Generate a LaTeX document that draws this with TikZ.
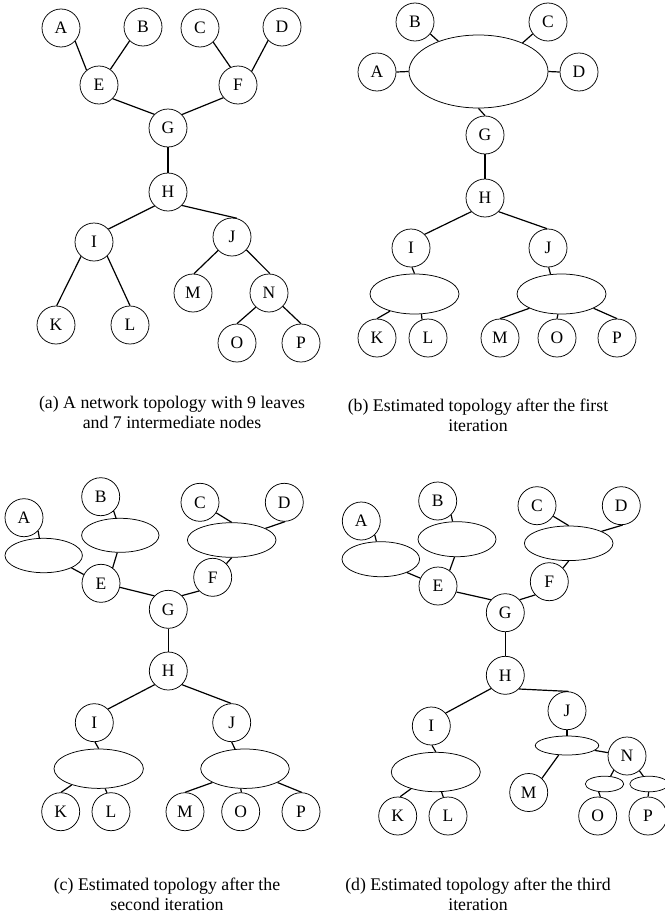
\documentclass[tikz,border=0pt]{standalone}
\usepackage{fontspec}
\setmainfont{Liberation Serif}
\usetikzlibrary{shapes.geometric}
\tikzset{
  vert/.style={circle, draw, line width=0.75pt, minimum size=38pt, inner sep=0pt, font=\fontsize{17.5}{18}\selectfont},
  blob/.style={ellipse, draw, line width=0.75pt, inner sep=0pt},
  link/.style={line width=1.2pt},
  captext/.style={anchor=base, inner sep=0pt, font=\fontsize{17.8}{20}\selectfont}
}
\begin{document}
\begin{tikzpicture}[x=1pt, y=-1pt]
\path[fill=white, use as bounding box] (0,0) rectangle (664,918);
% ---------- (a) ----------
\node[vert] (aA) at (61,28) {A};
\node[vert] (aB) at (143,27) {B};
\node[vert] (aC) at (200,28) {C};
\node[vert] (aD) at (282,27) {D};
\node[vert] (aE) at (99,85) {E};
\node[vert] (aF) at (238,85) {F};
\node[vert] (aG) at (168,128) {G};
\node[vert] (aH) at (168,192) {H};
\node[vert] (aI) at (94,242) {I};
\node[vert] (aJ) at (232,237) {J};
\node[vert] (aM) at (193,293) {M};
\node[vert] (aN) at (269,293) {N};
\node[vert] (aK) at (56,325) {K};
\node[vert] (aL) at (130,325) {L};
\node[vert] (aO) at (237,343) {O};
\node[vert] (aP) at (301,343) {P};
\draw[link] (aA.-43) -- (aE.130);
\draw[link] (aB.-134) -- (aE.54);
\draw[link] (aC.-47) -- (aF.113);
\draw[link] (aD.-136) -- (aF.45);
\draw[link] (aE.-45) -- (aG.135);
\draw[link] (aF.-139) -- (aG.44);
\draw[link] (aG) -- (aH);
\draw[link] (aH.-134) -- (aI.42);
\draw[link] (aH.-44) -- (aJ.76);
\draw[link] (aI.-132) -- (aK.88);
\draw[link] (aI.-47) -- (aL.90);
\draw[link] (aJ.-136) -- (aM.87);
\draw[link] (aJ.-42) -- (aN.87);
\draw[link] (aN.-133) -- (aO.90);
\draw[link] (aN.-44) -- (aP.90);
% ---------- (b) ----------
\node[vert] (bB) at (415,22) {B};
\node[vert] (bC) at (548,22) {C};
\node[vert] (bA) at (377,72) {A};
\node[vert] (bD) at (579,72) {D};
\node[blob, minimum width=139pt, minimum height=73pt] (bX) at (478.5,71.5) {};
\node[vert] (bG) at (485,135) {G};
\node[vert] (bH) at (485,198) {H};
\node[vert] (bI) at (411,248) {I};
\node[vert] (bJ) at (548,248) {J};
\node[blob, minimum width=89pt, minimum height=40pt] (bY) at (414.5,294) {};
\node[blob, minimum width=89pt, minimum height=40pt] (bZ) at (561.5,294) {};
\node[vert] (bK) at (377,338) {K};
\node[vert] (bL) at (428,338) {L};
\node[vert] (bM) at (500,338) {M};
\node[vert] (bO) at (557,338) {O};
\node[vert] (bP) at (617,338) {P};
\draw[link] (bA.east) -- (bX.west);
\draw[link] (bD.west) -- (bX.east);
\draw[link] (bB.-38) -- (bX.143);
\draw[link] (bC.218) -- (bX.33);
\draw[link] (bX.south) -- (bG.north);
\draw[link] (bG) -- (bH);
\draw[link] (bH.-135) -- (bI.45);
\draw[link] (bH.-45) -- (bJ.93);
\draw[link] (bI.-87) -- (bY.90);
\draw[link] (bJ.-88) -- (bZ.119);
\draw[link] (bY.215) -- (bK.90);
\draw[link] (bY.289) -- (bL.108);
\draw[link] (bZ.204) -- (bM.90);
\draw[link] (bZ.260) -- (bO.90);
\draw[link] (bZ.336) -- (bP.90);
% ---------- (c) ----------
\node[vert] (cA) at (24,517.7) {A};
\node[vert] (cB) at (100.7,496.7) {B};
\node[vert] (cC) at (200,502.3) {C};
\node[vert] (cD) at (284.3,502.3) {D};
\node[blob, minimum width=77.4pt, minimum height=34.4pt] (cEA) at (43.7,555.5) {};
\node[blob, minimum width=77.4pt, minimum height=34pt] (cEB) at (120.3,535.3) {};
\node[blob, minimum width=88.6pt, minimum height=34.6pt] (cECD) at (231.7,540) {};
\node[vert] (cE) at (101,583.3) {E};
\node[vert] (cF) at (212.7,577.3) {F};
\node[vert] (cG) at (168.3,609.3) {G};
\node[vert] (cH) at (168.3,671) {H};
\node[vert] (cI) at (94.3,722.7) {I};
\node[vert] (cJ) at (231.7,722.7) {J};
\node[blob, minimum width=89.4pt, minimum height=39.4pt] (cEKL) at (98.7,768.7) {};
\node[blob, minimum width=88.6pt, minimum height=39.4pt] (cEMOP) at (245,768.7) {};
\node[vert] (cK) at (60.7,811.7) {K};
\node[vert] (cL) at (111,811.7) {L};
\node[vert] (cM) at (185,811.7) {M};
\node[vert] (cO) at (240.7,811.7) {O};
\node[vert] (cP) at (301,811.7) {P};
\draw[link] (cA.-43) -- (cEA.104);
\draw[link] (cB.-48) -- (cEB.104);
\draw[link] (cEA.336) -- (cE.153);
\draw[link] (cEB.260) -- (cE.53);
\draw[link] (cC.-33) -- (cECD.90);
\draw[link] (cD.-88) -- (cECD.19);
\draw[link] (cECD.270) -- (cF.45);
\draw[link] (cE.-12) -- (cG.136);
\draw[link] (cF.-135) -- (cG.45);
\draw[link] (cG) -- (cH);
\draw[link] (cH.-135) -- (cI.45);
\draw[link] (cH.-45) -- (cJ.92);
\draw[link] (cI.-88) -- (cEKL.90);
\draw[link] (cJ.-90) -- (cEMOP.117);
\draw[link] (cEKL.211) -- (cK.89);
\draw[link] (cEKL.288) -- (cL.102);
\draw[link] (cEMOP.203) -- (cM.90);
\draw[link] (cEMOP.258) -- (cO.88);
\draw[link] (cEMOP.337) -- (cP.88);
% ---------- (d) ----------
\node[vert] (dA) at (361.3,521) {A};
\node[vert] (dB) at (437.7,501) {B};
\node[vert] (dC) at (537,505.7) {C};
\node[vert] (dD) at (621.3,505.7) {D};
\node[blob, minimum width=77.6pt, minimum height=35pt] (dEA) at (380.8,559.2) {};
\node[blob, minimum width=78pt, minimum height=35pt] (dEB) at (457,539.2) {};
\node[blob, minimum width=88.6pt, minimum height=34.6pt] (dECD) at (568.7,543.3) {};
\node[vert] (dE) at (438,586) {E};
\node[vert] (dF) at (549.3,581.7) {F};
\node[vert] (dG) at (505.3,612.7) {G};
\node[vert] (dH) at (505.3,675.3) {H};
\node[vert] (dI) at (431.3,726) {I};
\node[vert] (dJ) at (567,710.7) {J};
\node[blob, minimum width=63.4pt, minimum height=19pt] (dEJ) at (567,745.5) {};
\node[vert] (dN) at (627,756) {N};
\node[blob, minimum width=89pt, minimum height=39.4pt] (dEKL) at (435.8,772) {};
\node[vert] (dM) at (528.7,792.5) {M};
\node[blob, minimum width=38.4pt, minimum height=15.6pt] (dEO) at (604.5,784) {};
\node[blob, minimum width=38.4pt, minimum height=15.6pt] (dEP) at (649,784) {};
\node[vert] (dK) at (397.7,816) {K};
\node[vert] (dL) at (448,816) {L};
\node[vert] (dO) at (597.7,816) {O};
\node[vert] (dP) at (648,816) {P};
\draw[link] (dA.-46) -- (dEA.104);
\draw[link] (dB.-46) -- (dEB.104);
\draw[link] (dEA.333) -- (dE.156);
\draw[link] (dEB.262) -- (dE.53);
\draw[link] (dC.-33) -- (dECD.90);
\draw[link] (dD.-86) -- (dECD.20);
\draw[link] (dECD.270) -- (dF.45);
\draw[link] (dE.-18) -- (dG.138);
\draw[link] (dF.-137) -- (dG.42);
\draw[link] (dG) -- (dH);
\draw[link] (dH.-137) -- (dI.42);
\draw[link] (dH.-45) -- (dJ.85);
\draw[link] (dI.-88) -- (dEKL.90);
\draw[link] (dEKL.214) -- (dK.83);
\draw[link] (dEKL.286) -- (dL.104);
\draw[link] (dJ.south) -- (dEJ.north);
\draw[link] (dEJ.350) -- (dN.170);
\draw[link] (dEJ.229) -- (dM.47);
\draw[link] (dN.-133) -- (dEO.52);
\draw[link] (dN.-50) -- (dEP.126);
\draw[link] (dEO.233) -- (dO.82);
\draw[link] (dEP.268) -- (dP.north);
% ---------- captions ----------
\node[captext] (capA1) at (172,408) {(a) A network topology with 9 leaves};
\node[captext] (capA2) at (172,428) {and 7 intermediate nodes};
\node[captext] (capB1) at (478,411) {(b) Estimated topology after the first};
\node[captext] (capB2) at (478,431) {iteration};
\node[captext] (capC1) at (167,890) {(c) Estimated topology after the};
\node[captext] (capC2) at (167,910) {second iteration};
\node[captext] (capD1) at (478,890) {(d) Estimated topology after the third};
\node[captext] (capD2) at (478,910) {iteration};
\end{tikzpicture}
\end{document}
